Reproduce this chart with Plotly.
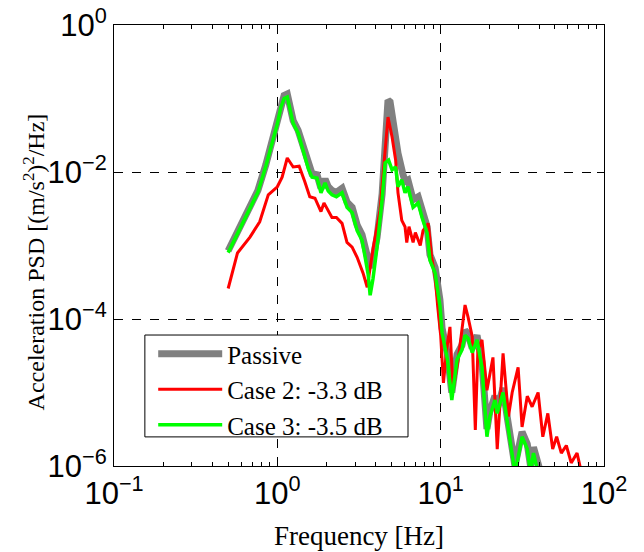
import plotly.graph_objects as go

# Passive
freq_passive = [
    0.5, 0.62, 0.76, 0.85, 0.93, 1.0, 1.05, 1.1, 1.15, 1.2,
    1.25, 1.34, 1.45, 1.55, 1.63, 1.75, 1.85, 1.96, 2.05, 2.16,
    2.3, 2.49, 2.67, 2.87, 3.08, 3.3, 3.45, 3.6, 3.7, 3.85,
    4.08, 4.38, 4.57, 4.76, 4.9, 5.12, 5.3, 5.48, 5.86, 6.05,
    6.3, 6.78, 7.28, 7.69, 8.26, 8.6, 9.25, 9.9, 10.2, 11.0,
    11.7, 12.6, 13.5, 14.1, 14.7, 15.6, 16.7, 17.9, 19.2, 20.0,
    21.5, 22.2, 24.1, 25.6, 27.4, 28.5, 29.8, 31.5, 33.9, 35.5,
    37.0, 39.0, 41.0,
]
psd_passive = [
    8.5e-4, 2.2e-3, 5.6e-3, 1.25e-2, 2.7e-2, 4.8e-2, 8.0e-2, 1.1e-1, 1.15e-1, 7.5e-2,
    5.0e-2, 3.7e-2, 2.0e-2, 1.2e-2, 9.5e-3, 9.2e-3, 6.0e-3, 8.0e-3, 6.3e-3, 5.6e-3,
    5.3e-3, 6.0e-3, 3.9e-3, 3.3e-3, 1.9e-3, 1.4e-3, 9.0e-4, 6.0e-4, 5.0e-4, 6.5e-4,
    1.3e-3, 5.0e-3, 3.0e-2, 9.5e-2, 9.0e-2, 4.1e-2, 2.8e-2, 1.8e-2, 9.5e-3, 7.5e-3,
    7.8e-3, 4.2e-3, 4.6e-3, 2.9e-3, 1.8e-3, 7.5e-4, 5.0e-4, 1.8e-4, 7.5e-5, 3.3e-5,
    1.0e-5, 3.3e-5, 4.4e-5, 7.0e-5, 6.3e-5, 4.0e-5, 6.0e-5, 2.6e-5, 3.2e-6, 5.5e-6,
    9.0e-6, 6.0e-6, 1.15e-5, 4.5e-6, 1.6e-6, 1.0e-6, 1.6e-6, 2.9e-6, 2.0e-6, 1.0e-6,
    1.8e-6, 1.1e-6, 8.0e-7,
]

# Case 2: -3.3 dB
freq_case2 = [
    0.5, 0.57, 0.68, 0.78, 0.88, 1.0, 1.07, 1.15, 1.25, 1.36,
    1.47, 1.58, 1.70, 1.80, 1.85, 1.93, 2.05, 2.16, 2.3, 2.49,
    2.67, 2.87, 3.08, 3.35, 3.55, 3.87, 4.25, 4.57, 4.76, 5.04,
    5.3, 5.48, 5.78, 6.05, 6.2, 6.4, 6.78, 7.0, 7.5, 7.8,
    8.4, 8.8, 9.25, 9.6, 10.0, 10.4, 10.9, 11.4, 11.9, 12.8,
    13.7, 14.1, 14.7, 15.6, 16.3, 16.9, 17.9, 19.2, 20.9, 22.2,
    24.1, 26.0, 27.4, 29.8, 31.5, 33.9, 36.3, 39.5, 42.2, 45.3,
    48.5, 51.3, 54.8, 58.8, 63.0, 68.4, 72.0,
]
psd_case2 = [
    2.6e-4, 7.9e-4, 1.3e-3, 2.1e-3, 4.9e-3, 6.3e-3, 8.5e-3, 1.55e-2, 1.17e-2, 1.2e-2,
    7.5e-3, 4.6e-3, 4.4e-3, 3.2e-3, 2.9e-3, 3.8e-3, 3.0e-3, 2.4e-3, 2.4e-3, 2.0e-3,
    1.1e-3, 9.5e-4, 6.9e-4, 4.2e-4, 2.7e-4, 9.5e-4, 3.0e-3, 1.8e-2, 5.6e-2, 3.0e-2,
    1.45e-2, 5.2e-3, 2.2e-3, 1.8e-3, 1.1e-3, 1.8e-3, 1.1e-3, 1.5e-3, 1.0e-3, 1.6e-3,
    2.0e-3, 7.0e-4, 3.7e-4, 1.45e-4, 6.0e-5, 1.35e-5, 4.0e-5, 7.8e-5, 1.07e-5, 2.8e-5,
    1.07e-4, 1.55e-4, 1.07e-4, 5.8e-5, 3.1e-6, 3.8e-5, 5.2e-5, 1.07e-5, 3.0e-5, 1.7e-6,
    3.4e-5, 4.7e-6, 1.0e-5, 2.2e-5, 3.4e-6, 8.9e-6, 6.4e-6, 1.0e-5, 2.5e-6, 5.2e-6,
    1.7e-6, 2.5e-6, 1.5e-6, 1.9e-6, 1.1e-6, 1.5e-6, 9.0e-7,
]

# Case 3: -3.5 dB
freq_case3 = [
    0.5, 0.62, 0.76, 0.85, 0.93, 1.0, 1.05, 1.1, 1.15, 1.2,
    1.25, 1.34, 1.45, 1.55, 1.63, 1.75, 1.85, 1.96, 2.05, 2.16,
    2.3, 2.49, 2.67, 2.87, 3.08, 3.3, 3.45, 3.6, 3.7, 3.85,
    4.08, 4.38, 4.57, 4.8, 5.04, 5.3, 5.48, 5.78, 6.05, 6.3,
    6.78, 7.28, 7.69, 8.26, 8.6, 9.25, 9.9, 10.2, 11.0, 11.7,
    12.6, 13.5, 14.1, 14.7, 15.6, 16.7, 17.9, 19.2, 20.0, 21.5,
    22.2, 24.1, 25.6, 27.4, 28.5, 29.8, 31.5, 33.9, 35.5, 37.0,
    39.0, 41.0,
]
psd_case3 = [
    8.0e-4, 2.1e-3, 5.3e-3, 1.2e-2, 2.5e-2, 4.5e-2, 7.5e-2, 1.0e-1, 1.05e-1, 7.0e-2,
    4.6e-2, 3.4e-2, 1.8e-2, 1.1e-2, 8.5e-3, 8.3e-3, 5.2e-3, 7.1e-3, 5.5e-3, 4.9e-3,
    4.6e-3, 5.2e-3, 3.3e-3, 2.8e-3, 1.6e-3, 1.18e-3, 6.9e-4, 4.0e-4, 2.1e-4, 3.5e-4,
    9.5e-4, 4.2e-3, 1.33e-2, 1.45e-2, 1.07e-2, 1.17e-2, 6.3e-3, 7.8e-3, 5.2e-3, 6.3e-3,
    3.3e-3, 3.8e-3, 2.4e-3, 1.48e-3, 6.3e-4, 4.2e-4, 1.5e-4, 6.5e-5, 2.8e-5, 7.9e-6,
    2.8e-5, 3.8e-5, 6.0e-5, 5.5e-5, 3.5e-5, 5.2e-5, 2.2e-5, 2.5e-6, 4.7e-6, 7.9e-6,
    5.2e-6, 1.0e-5, 3.9e-6, 1.3e-6, 8.0e-7, 1.3e-6, 2.5e-6, 1.7e-6, 8.0e-7, 1.5e-6,
    9.0e-7, 7.0e-7,
]

x_ticks = [0.1, 1, 10, 100]
x_ticktext = ["10<sup>\u22121</sup>", "10<sup>0</sup>", "10<sup>1</sup>", "10<sup>2</sup>"]
y_ticks = [1e-6, 1e-4, 1e-2, 1]
y_ticktext = ["10<sup>\u22126</sup>", "10<sup>\u22124</sup>", "10<sup>\u22122</sup>", "10<sup>0</sup>"]

SERIF = "Liberation Serif"
SANS = "Liberation Sans"

fig = go.Figure()
fig.add_trace(go.Scatter(x=freq_passive, y=psd_passive, mode="lines", name="Passive",
                         line=dict(color="#808080", width=7)))
fig.add_trace(go.Scatter(x=freq_case2, y=psd_case2, mode="lines", name="Case 2: -3.3 dB",
                         line=dict(color="#ff0000", width=3)))
fig.add_trace(go.Scatter(x=freq_case3, y=psd_case3, mode="lines", name="Case 3: -3.5 dB",
                         line=dict(color="#00ff00", width=3.5)))

axis_common = dict(
    type="log",
    automargin=False,
    showline=True, linecolor="black", linewidth=1, mirror="ticks",
    ticks="inside", ticklen=7, tickcolor="black",
    showgrid=True, gridcolor="black", griddash="dash", gridwidth=1,
    zeroline=False,
    tickfont=dict(family=SANS, size=31, color="black"),
    ticklabeloverflow="allow",
    tickmode="array",
)

fig.update_xaxes(
    **axis_common,
    range=[-1, 2],
    tickvals=x_ticks, ticktext=x_ticktext,
    minor=dict(ticks="inside", ticklen=4, tickcolor="black", dtick="D1", showgrid=False),
    title=dict(text="Frequency [Hz]", font=dict(family=SERIF, size=27, color="black"), standoff=15),
)
fig.update_yaxes(
    **axis_common,
    range=[-6, 0],
    tickvals=y_ticks, ticktext=y_ticktext,
)

# y title as an annotation so it can sit close to the tick labels
fig.add_annotation(
    text="Acceleration PSD [(m/s<sup>2</sup>)<sup>2</sup>/Hz]",
    xref="paper", yref="paper", x=-0.163, y=0.462,
    xanchor="center", yanchor="middle", textangle=-90, showarrow=False,
    font=dict(family=SERIF, size=24, color="black"),
)

# legend frame (white box with black edge), legend entries sit inside it
fig.add_shape(
    type="rect", xref="paper", yref="paper",
    x0=0.063, x1=0.6, y0=0.066, y1=0.297,
    line=dict(color="black", width=1), fillcolor="white", layer="above",
)

fig.update_layout(
    width=644, height=552,
    margin=dict(l=114, r=40, t=25, b=86),
    plot_bgcolor="white", paper_bgcolor="white",
    showlegend=True,
    legend=dict(
        x=0.08, y=0.306, xanchor="left", yanchor="top",
        bgcolor="rgba(0,0,0,0)", borderwidth=0,
        font=dict(family=SERIF, size=25, color="black"),
        itemwidth=64, tracegroupgap=0,
    ),
)

# drop the default 8 px page margin so the figure fills the window
fig.write_html(
    "out.html",
    config={"displayModeBar": False},
    post_script="document.body.style.margin = '0px';",
)
